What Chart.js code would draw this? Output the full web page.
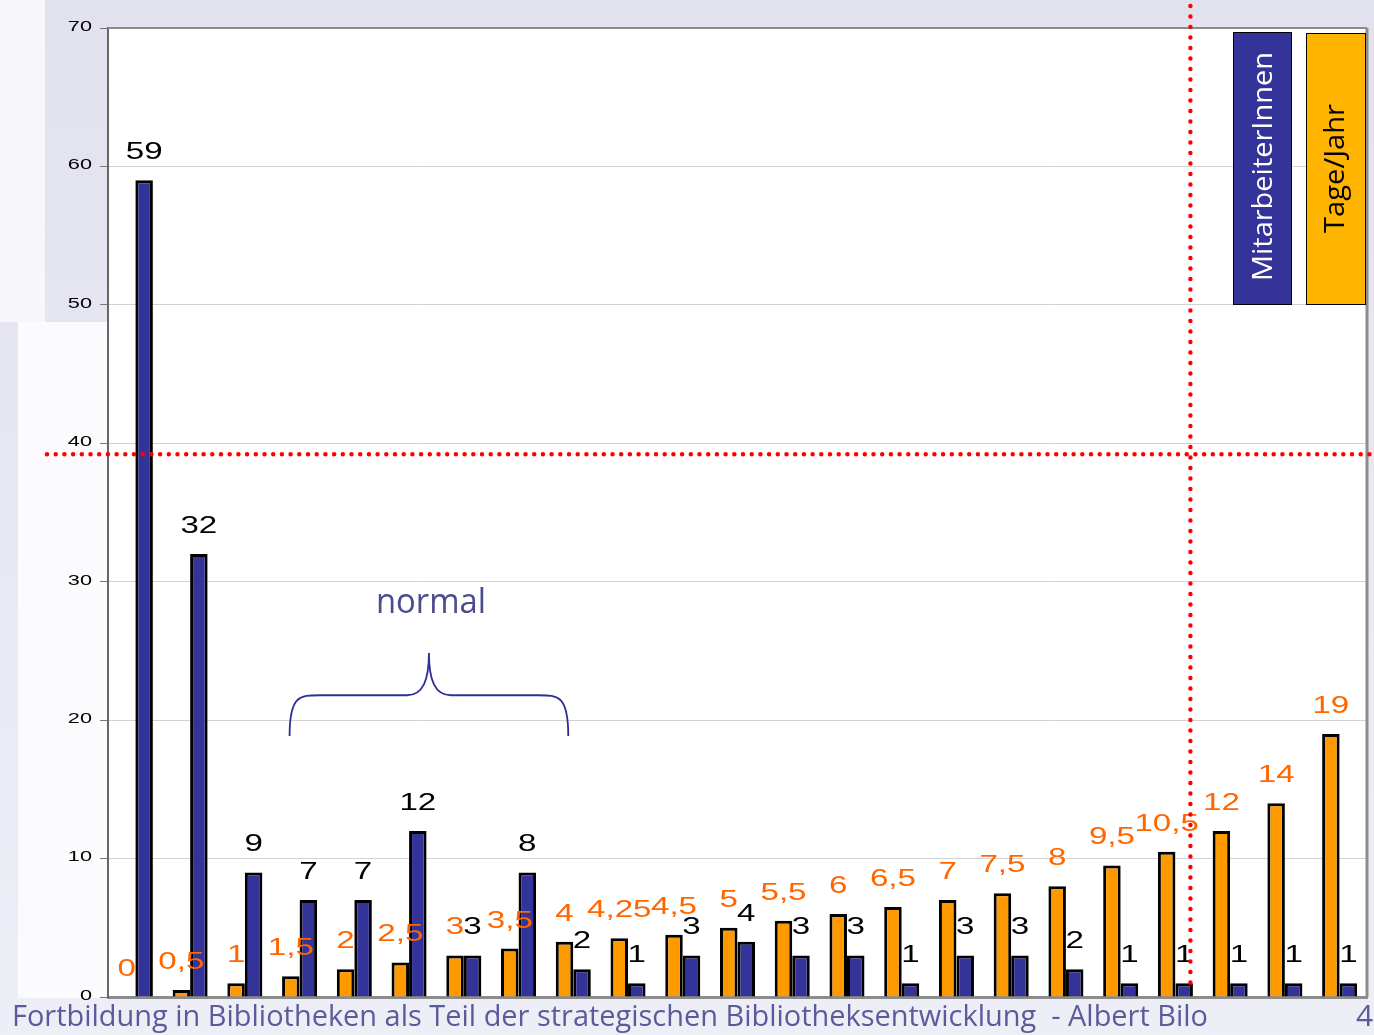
<!DOCTYPE html>
<html>
<head>
<meta charset="utf-8">
<script src="https://cdn.jsdelivr.net/npm/chart.js@4.4.1/dist/chart.umd.min.js"></script>
<style>
  html, body { margin: 0; padding: 0; background: #e9e9f4; }
  canvas { display: block; }
</style>
</head>
<body>
<canvas id="chart" width="1374" height="1035"></canvas>
<script>
// ---------------- DATA ----------------
const categories = ["1","2","3","4","5","6","7","8","9","10","11","12","13","14","15","16","17","18","19","20","21","22","23"];
const tageJahr = [0, 0.5, 1, 1.5, 2, 2.5, 3, 3.5, 4, 4.25, 4.5, 5, 5.5, 6, 6.5, 7, 7.5, 8, 9.5, 10.5, 12, 14, 19];
// bar heights as drawn in the original (8th bar is drawn at 9 but labelled 8)
const mitarbeiter = [59, 32, 9, 7, 7, 12, 3, 9, 2, 1, 3, 4, 3, 3, 1, 3, 3, 2, 1, 1, 1, 1, 1];
const mitarbeiterLabels = ["59", "32", "9", "7", "7", "12", "3", "8", "2", "1", "3", "4", "3", "3", "1", "3", "3", "2", "1", "1", "1", "1", "1"];
const yTicks = [0, 10, 20, 30, 40, 50, 60, 70];

const footerText = "Fortbildung in Bibliotheken als Teil der strategischen Bibliotheksentwicklung  - Albert Bilo";

// text helper: squeeze / stretch a string horizontally
function wideText(ctx, text, x, y, sx, align) {
    ctx.save();
    ctx.translate(x, y);
    ctx.scale(sx, 1);
    ctx.textAlign = align;
    ctx.fillText(text, 0, 0);
    ctx.restore();
}
function fitText(ctx, text, x, y, width) {
    const w = ctx.measureText(text).width;
    wideText(ctx, text, x, y, width / w, "left");
}
function fmt(v) {
    return String(v).replace(".", ",");
}
function dotted(ctx, x1, y1, x2, y2, gap) {
    ctx.save();
    ctx.strokeStyle = "#ff0000";
    ctx.lineWidth = 4.5;
    ctx.lineCap = "round";
    ctx.setLineDash([0, gap]);
    ctx.beginPath();
    ctx.moveTo(x1, y1);
    ctx.lineTo(x2, y2);
    ctx.stroke();
    ctx.restore();
}

const slideDeco = {
    id: "slideDeco",
    beforeDraw(chart) {
        const ctx = chart.ctx;
        const a = chart.chartArea;
        const g = ctx.createLinearGradient(0, 0, 0, chart.height);
        g.addColorStop(0, "#e2e2ef");
        g.addColorStop(1, "#eeeef7");
        ctx.fillStyle = g;
        ctx.fillRect(0, 0, chart.width, chart.height);
        ctx.fillStyle = "#f6f6fb";
        ctx.fillRect(0, 0, 45, 322);
        ctx.fillStyle = "#fbfbfe";
        ctx.fillRect(18, 322, 90, 676);
        ctx.fillStyle = "#ffffff";
        ctx.fillRect(a.left, a.top, a.right - a.left, a.bottom - a.top);
    },
    afterDatasetsDraw(chart) {
        const ctx = chart.ctx;
        const a = chart.chartArea;

        // value labels
        ctx.save();
        ctx.font = "24px 'Liberation Sans', Arial, sans-serif";
        ctx.textBaseline = "alphabetic";
        chart.data.datasets.forEach((ds, i) => {
            const meta = chart.getDatasetMeta(i);
            ctx.fillStyle = i === 0 ? "#ff6600" : "#000000";
            meta.data.forEach((bar, j) => {
                const txt = i === 0 ? fmt(ds.data[j]) : mitarbeiterLabels[j];
                wideText(ctx, txt, bar.x, bar.y - 21, 1.38, "center");
            });
        });
        ctx.restore();

        // plot frame top / right
        ctx.save();
        ctx.strokeStyle = "#8c8c8c";
        ctx.lineWidth = 2;
        ctx.beginPath();
        ctx.moveTo(a.left, a.top);
        ctx.lineTo(a.right, a.top);
        ctx.stroke();
        ctx.lineWidth = 3;
        ctx.beginPath();
        ctx.moveTo(a.right, a.top);
        ctx.lineTo(a.right, a.bottom);
        ctx.stroke();
        ctx.restore();
    },
    afterDraw(chart) {
        const ctx = chart.ctx;
        const a = chart.chartArea;
        const ys = chart.scales.y;
        const xs = chart.scales.x;

        // y tick labels
        ctx.save();
        ctx.fillStyle = "#000";
        ctx.font = "14px 'Liberation Sans', Arial, sans-serif";
        ctx.textBaseline = "middle";
        yTicks.forEach(t => {
            wideText(ctx, String(t), a.left - 16, ys.getPixelForValue(t) - 1, 1.55, "right");
        });
        ctx.restore();

        // red dotted marker lines
        const hy = ys.getPixelForValue(39.2);
        dotted(ctx, 47, hy, chart.width, hy, 8.7);
        const vx = xs.getPixelForValue(19) + 15;
        dotted(ctx, vx, 6, vx, a.bottom - 14, 10.5);

        // brace + "normal"
        const bx1 = xs.getPixelForValue(3) - 10;
        const bx2 = xs.getPixelForValue(8) - 5;
        const mid = (bx1 + bx2) / 2;
        const yEnd = ys.getPixelForValue(18.85);
        const yBar = ys.getPixelForValue(21.8);
        const yTip = ys.getPixelForValue(24.85);
        ctx.save();
        ctx.strokeStyle = "#2e2e96";
        ctx.lineWidth = 1.8;
        ctx.beginPath();
        ctx.moveTo(bx1, yEnd);
        ctx.bezierCurveTo(bx1, yBar, bx1 + 10, yBar, bx1 + 30, yBar);
        ctx.lineTo(mid - 22, yBar);
        ctx.bezierCurveTo(mid - 6, yBar, mid, yBar - 15, mid, yTip);
        ctx.bezierCurveTo(mid, yBar - 15, mid + 6, yBar, mid + 22, yBar);
        ctx.lineTo(bx2 - 30, yBar);
        ctx.bezierCurveTo(bx2 - 10, yBar, bx2, yBar, bx2, yEnd);
        ctx.stroke();
        ctx.fillStyle = "#4b4b8f";
        ctx.font = "34px 'Open Sans', sans-serif";
        ctx.textBaseline = "alphabetic";
        fitText(ctx, "normal", mid - 53, yTip - 40, 110);
        ctx.restore();

        // legend boxes
        ctx.save();
        ctx.lineWidth = 1;
        ctx.strokeStyle = "#000";
        ctx.fillStyle = "#333399";
        ctx.fillRect(1233, 32, 58, 272);
        ctx.strokeRect(1233.5, 32.5, 58, 272);
        ctx.fillStyle = "#ffb400";
        ctx.fillRect(1306, 33, 59, 271);
        ctx.strokeRect(1306.5, 33.5, 59, 271);
        ctx.font = "28px 'Open Sans', sans-serif";
        ctx.textBaseline = "middle";
        ctx.save();
        ctx.translate(1264, 281);
        ctx.rotate(-Math.PI / 2);
        ctx.fillStyle = "#ffffff";
        fitText(ctx, "MitarbeiterInnen", 0, 0, 229);
        ctx.restore();
        ctx.save();
        ctx.translate(1336, 233);
        ctx.rotate(-Math.PI / 2);
        ctx.fillStyle = "#000000";
        fitText(ctx, "Tage/Jahr", 0, 0, 129);
        ctx.restore();
        ctx.restore();

        // footer
        ctx.save();
        ctx.fillStyle = "#5b5b9b";
        ctx.font = "30px 'Open Sans', sans-serif";
        ctx.textBaseline = "alphabetic";
        fitText(ctx, footerText, 12, 1026, 1196);
        ctx.fillText("4", 1356, 1026);
        ctx.restore();
    }
};

new Chart(document.getElementById("chart"), {
    type: "bar",
    data: {
        labels: categories,
        datasets: [
            {
                label: "Tage/Jahr",
                data: tageJahr,
                backgroundColor: "#ff9900",
                borderColor: "#000000",
                borderWidth: 3
            },
            {
                label: "MitarbeiterInnen",
                data: mitarbeiter,
                backgroundColor: "#333399",
                borderColor: "#000000",
                borderWidth: 3
            }
        ]
    },
    options: {
        responsive: false,
        animation: false,
        devicePixelRatio: 1,
        layout: { padding: { left: 100, top: 28, right: 7, bottom: 38 } },
        datasets: { bar: { categoryPercentage: 0.64, barPercentage: 1 } },
        plugins: { legend: { display: false }, tooltip: { enabled: false } },
        scales: {
            x: {
                grid: { display: false },
                ticks: { display: false },
                border: { color: "#8c8c8c", width: 3 },
                afterFit: s => { s.height = 0; }
            },
            y: {
                min: 0,
                max: 70,
                ticks: { display: false, stepSize: 10 },
                grid: { color: "#d2d2d2", tickColor: "#777", tickLength: 8 },
                border: { color: "#666", width: 2 },
                afterFit: s => { s.width = 8; }
            }
        }
    },
    plugins: [slideDeco]
});
</script>
</body>
</html>
